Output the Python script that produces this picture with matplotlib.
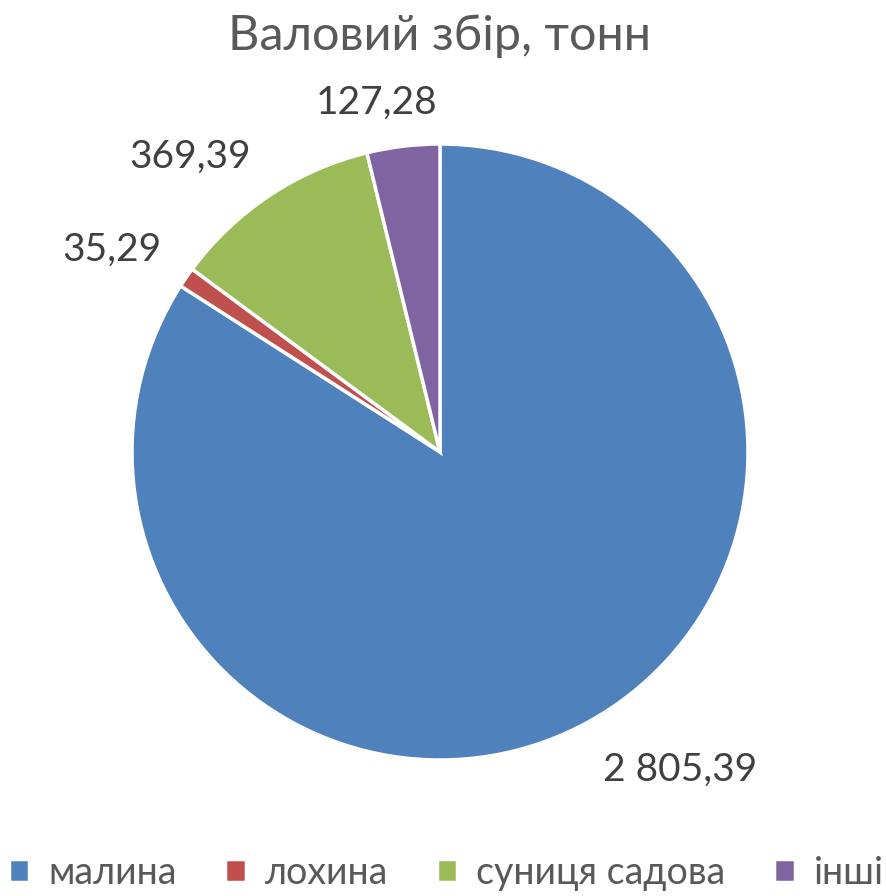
import matplotlib.pyplot as plt

plt.rcParams['font.family'] = ['Lato', 'DejaVu Sans']

categories = ['малина', 'лохина', 'суниця садова', 'інші']
values = [2805.39, 35.29, 369.39, 127.28]
value_labels = ['2 805,39', '35,29', '369,39', '127,28']
colors = ['#4F81BD', '#C0504D', '#9BBB59', '#8064A2']

# label positions (data coords, pie radius = 1)
label_pos = [(0.78, -1.03), (-1.065, 0.656), (-0.81, 0.96), (-0.205, 1.133)]

fig = plt.figure(figsize=(8.87, 8.96), dpi=100)
R = 308
cx, cy = 440, 452
ax = fig.add_axes([(cx - R) / 887, (896 - cy - R) / 896, 2 * R / 887, 2 * R / 896])

wedges, _ = ax.pie(values, colors=colors, startangle=90, counterclock=False,
                   wedgeprops=dict(edgecolor='white', linewidth=2.5))
ax.set_xlim(-1, 1)
ax.set_ylim(-1, 1)
ax.set_aspect('equal')
ax.axis('off')

for (x, y), t in zip(label_pos, value_labels):
    ax.text(x, y, t, ha='center', va='center', fontsize=28, color='#404040',
            clip_on=False)

fig.text(0.496, 0.960, 'Валовий збір, тонн', ha='center', va='center',
         fontsize=35, color='#595959')

fig.legend(wedges, categories, loc='center', bbox_to_anchor=(0.503, 0.026), ncol=4,
           frameon=False, fontsize=27, labelcolor='#595959', handlelength=0.55,
           handleheight=0.55, handletextpad=0.5, columnspacing=1.3)

fig.savefig('out.png', dpi=100)
